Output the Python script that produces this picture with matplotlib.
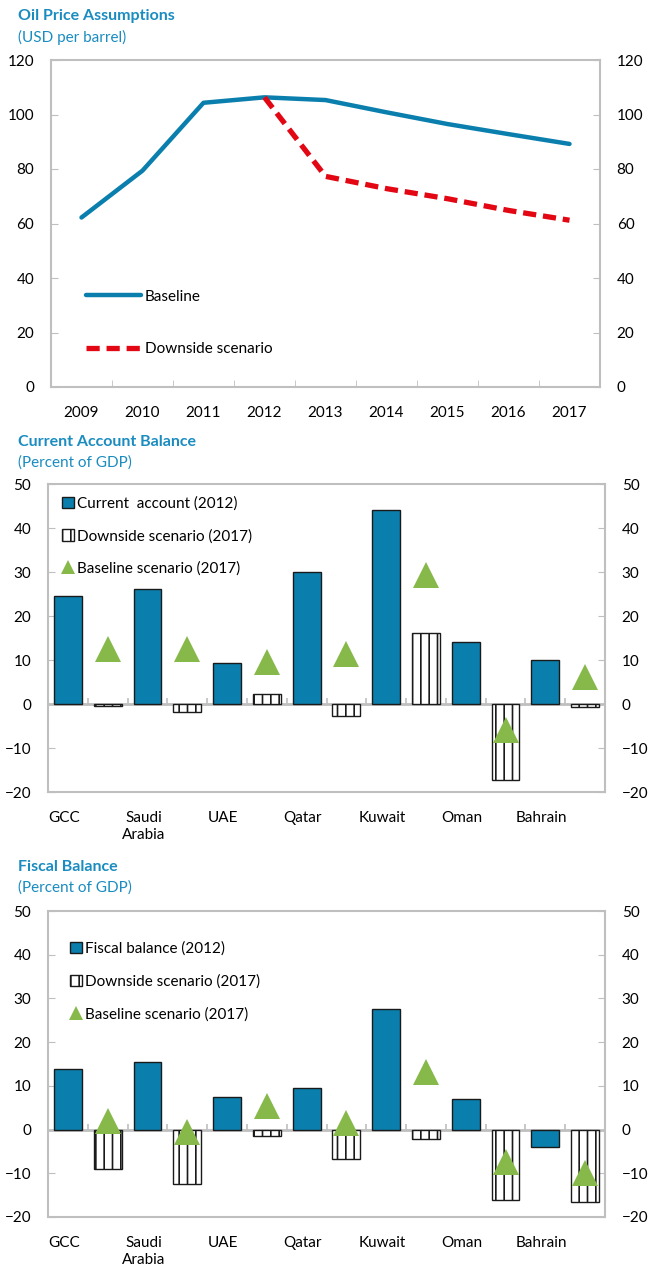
import numpy as np
import matplotlib
matplotlib.use("Agg")
import matplotlib.pyplot as plt
from matplotlib.patches import Patch
from matplotlib.lines import Line2D

plt.rcParams['font.family'] = ['Lato', 'DejaVu Sans']
plt.rcParams['hatch.linewidth'] = 1.2
plt.rcParams['hatch.color'] = '#333333'

# ---------------- data ----------------
years = ['2009', '2010', '2011', '2012', '2013', '2014', '2015', '2016', '2017']
oil_baseline = [62.2, 79.4, 104.3, 106.3, 105.3, 100.8, 96.5, 92.8, 89.2]
oil_downside = [None, None, None, 106.3, 77.3, 72.8, 69.1, 64.8, 61.2]

countries = ['GCC', 'Saudi\nArabia', 'UAE', 'Qatar', 'Kuwait', 'Oman', 'Bahrain']
ca_2012 = [24.6, 26.2, 9.4, 29.9, 44.0, 14.2, 10.1]
ca_downside_2017 = [-0.5, -1.85, 2.3, -2.8, 16.1, -17.3, -0.7]
ca_baseline_2017 = [12.6, 12.6, 9.5, 11.3, 29.3, -5.95, 6.1]

fb_2012 = [13.9, 15.5, 7.4, 9.5, 27.6, 7.1, -4.0]
fb_downside_2017 = [-9.1, -12.5, -1.4, -6.8, -2.1, -16.2, -16.6]
fb_baseline_2017 = [2.0, -0.5, 5.3, 1.5, 13.1, -7.5, -10.0]

# ---------------- style ----------------
BLUE = '#0A7FAD'
RED = '#E30613'
GREEN = '#87B94A'
TITLE = '#1A8CC0'
GRAY = '#BFBFBF'
FS = 11

fig = plt.figure(figsize=(6.53, 12.71), dpi=100)


def frame(ax):
    for s in ax.spines.values():
        s.set_color(GRAY)
        s.set_linewidth(1.5)
    ax.tick_params(axis='y', which='both', direction='in', length=5, color=GRAY,
                   labelsize=FS, left=True, right=True, labelleft=True, labelright=True,
                   pad=12)


def titles(y_title, title, subtitle):
    fig.text(0.027, y_title, title, color=TITLE, fontsize=FS + 0.5, fontweight='bold',
             va='center', ha='left')
    fig.text(0.027, y_title - 21 / 1271, subtitle, color=TITLE, fontsize=FS,
             va='center', ha='left')


# ---------------- top chart: oil price ----------------
ax1 = fig.add_axes([51 / 653, 1 - 387 / 1271, 549 / 653, 327 / 1271])
xi = np.arange(len(years))
ax1.plot(xi, oil_baseline, color=BLUE, lw=3.2, solid_capstyle='round', label='Baseline')
dx = [x for x, v in zip(xi, oil_downside) if v is not None]
dv = [v for v in oil_downside if v is not None]
ax1.plot(dx, dv, color=RED, lw=3.8, linestyle=(0, (2.5, 1.3)), label='Downside scenario')
ax1.set_xlim(-0.5, len(years) - 0.5)
ax1.set_ylim(0, 120)
ax1.set_yticks(np.arange(0, 121, 20))
ax1.set_xticks(xi)
ax1.set_xticklabels(years)
ax1.set_xticks(xi[:-1] + 0.5, minor=True)
ax1.tick_params(axis='x', which='major', length=0, labelsize=FS, pad=14)
ax1.tick_params(axis='x', which='minor', direction='in', length=5, color=GRAY)
frame(ax1)
ax1.legend(loc='lower left', bbox_to_anchor=(0.05, 0.07), frameon=False, fontsize=FS,
           handlelength=3.6, handletextpad=0.25, labelspacing=2.55, borderpad=0)
titles(1 - 16 / 1271, 'Oil Price Assumptions', '(USD per barrel)')


# ---------------- bar charts ----------------
def bar_chart(rect, v2012, vdown, vbase, lab2012, y_title, title, legend_anchor):
    ax = fig.add_axes(rect)
    n = len(countries)
    pos_a = np.arange(n) * 2
    pos_b = np.arange(n) * 2 + 1
    ax.bar(pos_a, v2012, width=0.7, color=BLUE, edgecolor='#1a1a1a', linewidth=1.0,
           zorder=3)
    ax.bar(pos_b, vdown, width=0.7, color='white', edgecolor='#1a1a1a', linewidth=1.0,
           hatch='||', zorder=3)
    ax.plot(pos_b, vbase, linestyle='none', marker='^', markersize=18.5, color=GREEN,
            markeredgewidth=0, zorder=4)
    ax.set_xlim(-0.5, 2 * n - 0.5)
    ax.set_ylim(-20, 50)
    ax.set_yticks(np.arange(-20, 51, 10))
    ax.set_xticks(pos_a - 0.1)
    ax.set_xticklabels(countries, va='top', linespacing=1.25)
    ax.tick_params(axis='x', which='major', length=0, labelsize=FS, pad=14)
    frame(ax)
    ax.axhline(0, color=GRAY, lw=2.0, zorder=2)
    zero_frac = (0 - ax.get_ylim()[0]) / (ax.get_ylim()[1] - ax.get_ylim()[0])
    sec = ax.secondary_xaxis(zero_frac)
    sec.set_xticks(np.arange(2 * n - 1) + 0.5)
    sec.tick_params(axis='x', direction='in', length=4, color=GRAY, labelbottom=False,
                    width=1.2)
    sec.spines['bottom'].set_visible(False)
    handles = [Patch(facecolor=BLUE, edgecolor='#1a1a1a', linewidth=1.0),
               Patch(facecolor='white', edgecolor='#1a1a1a', linewidth=1.0, hatch='||'),
               Line2D([], [], linestyle='none', marker='^', markersize=10, color=GREEN,
                      markeredgewidth=0)]
    labels = [lab2012, 'Downside scenario (2017)', 'Baseline scenario (2017)']
    ax.legend(handles, labels, loc='upper left', bbox_to_anchor=legend_anchor,
              frameon=False, fontsize=FS, handlelength=0.75, handleheight=0.75,
              handletextpad=0.2, labelspacing=1.2, borderpad=0)
    titles(y_title, title, '(Percent of GDP)')
    return ax


bar_chart([48 / 653, 1 - 792 / 1271, 557 / 653, 308 / 1271], ca_2012, ca_downside_2017,
          ca_baseline_2017, 'Current  account (2012)', 1 - 442 / 1271,
          'Current Account Balance', (0.012, 0.985))
bar_chart([48 / 653, 1 - 1217 / 1271, 557 / 653, 306 / 1271], fb_2012, fb_downside_2017,
          fb_baseline_2017, 'Fiscal balance (2012)', 1 - 867 / 1271,
          'Fiscal Balance', (0.026, 0.925))

fig.savefig('out.png', dpi=100)
